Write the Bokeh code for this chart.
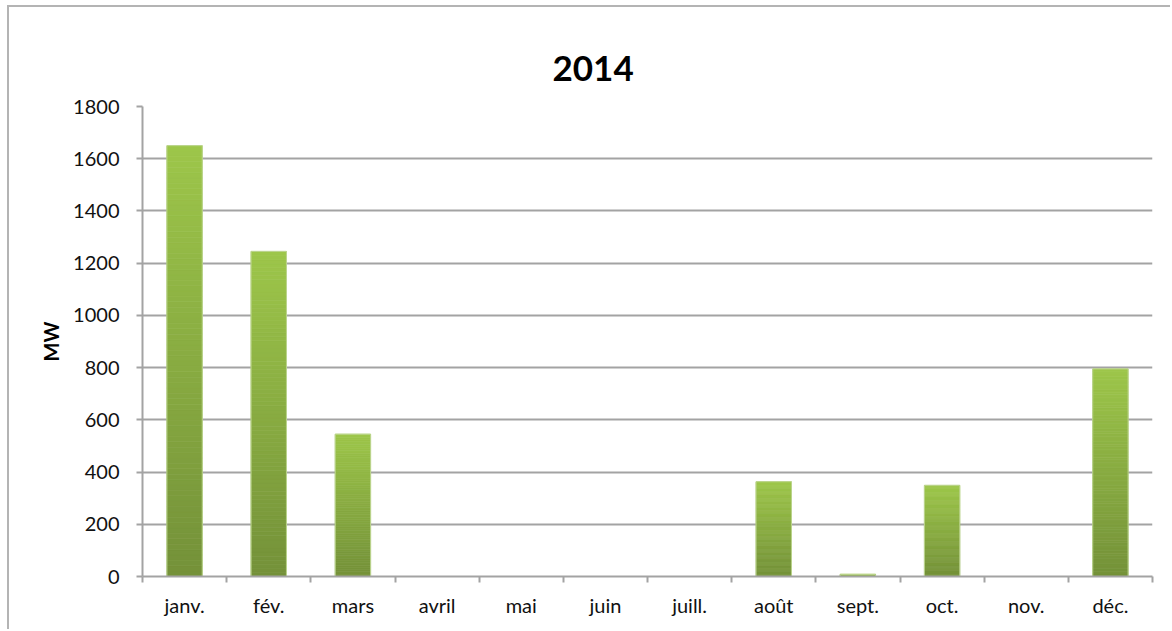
from bokeh.plotting import figure
from bokeh.models import Range1d, FixedTicker
from bokeh.embed import file_html
from bokeh.resources import INLINE

months = ["janv.", "fév.", "mars", "avril", "mai", "juin", "juill.", "août", "sept.", "oct.", "nov.", "déc."]
values = [1650, 1245, 545, 0, 0, 0, 0, 363, 8, 349, 0, 795]
y_ticks = [0, 200, 400, 600, 800, 1000, 1200, 1400, 1600, 1800]
title_text = "2014"
y_label = "MW"

FONT = "Lato"
GRAY = "#a3a3a3"
TOP_COLOR = (0x9d, 0xc6, 0x4a)
BOTTOM_COLOR = (0x74, 0x91, 0x39)

p = figure(width=1163, height=624, output_backend="svg", toolbar_location=None,
           x_range=Range1d(0, len(months)), y_range=Range1d(0, y_ticks[-1]),
           min_border_left=133, min_border_right=20, min_border_top=99, min_border_bottom=55)
p.margin = (5, 0, 0, 7)
p.styles = {"border-left": "2px solid #b4b4b4", "border-top": "2px solid #b4b4b4"}
p.outline_line_color = None
p.background_fill_color = "white"
p.border_fill_color = "white"

# title
p.title.text = title_text
p.title.align = "left"
p.title.offset = 410
p.title.text_font = FONT
p.title.text_font_size = "35px"
p.title.text_font_style = "bold"
p.title.text_color = "#000000"
p.title.vertical_align = "top"
p.title.standoff = 47

# gradient bars built from value slices
N = 80
xs, bots, tops, cols = [], [], [], []
for i, v in enumerate(values):
    if v <= 0:
        continue
    for k in range(N):
        f = (k + 0.5) / N
        c = tuple(int(round(BOTTOM_COLOR[j] + (TOP_COLOR[j] - BOTTOM_COLOR[j]) * f)) for j in range(3))
        xs.append(i + 0.5)
        bots.append(v * k / N)
        tops.append(v * (k + 1) / N)
        cols.append("#%02x%02x%02x" % c)
p.vbar(x=xs, bottom=bots, top=tops, width=0.42, fill_color=cols, line_color=cols, line_width=0.7)
nz = [(i + 0.5, v) for i, v in enumerate(values) if v > 0]
p.vbar(x=[a for a, _ in nz], top=[b for _, b in nz], bottom=0, width=0.42,
       fill_color=None, line_color="#bcd58f", line_width=1)

# axes
p.xaxis.ticker = FixedTicker(ticks=[i + 0.5 for i in range(len(months))],
                             minor_ticks=list(range(len(months) + 1)))
p.xaxis.major_label_overrides = {i + 0.5: m for i, m in enumerate(months)}
p.xaxis.major_tick_line_color = None
p.xaxis.major_tick_out = 6
p.xaxis.major_tick_in = 0
p.xaxis.minor_tick_line_color = GRAY
p.xaxis.minor_tick_line_width = 2
p.xaxis.minor_tick_out = 6
p.xaxis.minor_tick_in = 0
p.xaxis.axis_line_color = GRAY
p.xaxis.axis_line_width = 2
p.xaxis.major_label_text_font = FONT
p.xaxis.major_label_text_font_size = "20px"
p.xaxis.major_label_text_color = "#111111"
p.xaxis.major_label_standoff = 10

p.yaxis.ticker = FixedTicker(ticks=y_ticks, minor_ticks=[])
p.yaxis.major_tick_line_color = GRAY
p.yaxis.major_tick_line_width = 2
p.yaxis.major_tick_out = 6
p.yaxis.major_tick_in = 0
p.yaxis.axis_line_color = GRAY
p.yaxis.axis_line_width = 2
p.yaxis.major_label_text_font = FONT
p.yaxis.major_label_text_font_size = "20px"
p.yaxis.major_label_text_color = "#111111"
p.yaxis.major_label_standoff = 17
p.yaxis.axis_label = y_label
p.yaxis.axis_label_text_font = FONT
p.yaxis.axis_label_text_font_size = "20px"
p.yaxis.axis_label_text_font_style = "bold"
p.yaxis.axis_label_text_color = "#000000"
p.yaxis.axis_label_standoff = 7

p.xgrid.grid_line_color = None
p.ygrid.ticker = FixedTicker(ticks=y_ticks)
p.ygrid.grid_line_color = GRAY
p.ygrid.grid_line_width = 2

open("out.html", "w").write(file_html(p, INLINE))
